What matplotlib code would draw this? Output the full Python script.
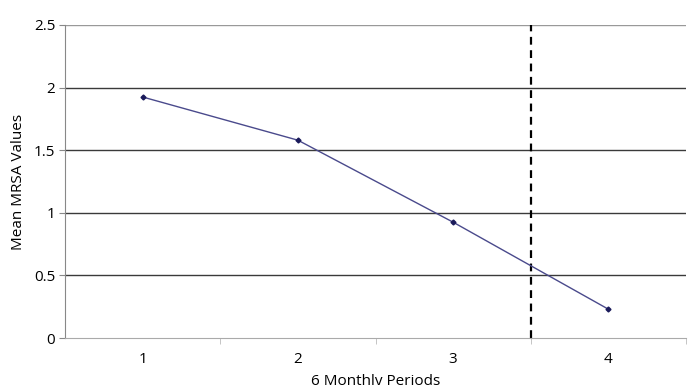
import matplotlib
matplotlib.use("Agg")
import matplotlib.pyplot as plt

# Mean MRSA values per 6 monthly period
periods = [1, 2, 3, 4]
period_labels = ["1", "2", "3", "4"]
mean_mrsa = [1.925, 1.58, 0.925, 0.23]
intervention = 3.5  # dashed line between period 3 and 4

plt.rcParams['font.family'] = ['Open Sans', 'DejaVu Sans']

fig = plt.figure(figsize=(6.96, 3.85), dpi=100)
ax = fig.add_axes([65 / 696, 47 / 385, 621 / 696, 313 / 385])

for y in [0.5, 1, 1.5, 2]:
    ax.axhline(y, color='#3a3a3a', lw=1.0, zorder=1)
ax.axhline(2.5, color='#999999', lw=1.0, zorder=1)

ax.plot(periods, mean_mrsa, color='#4a4a8c', lw=1.0, marker='D',
        markersize=2.5, markerfacecolor='#1a1a5a', markeredgecolor='#1a1a5a', zorder=3)
ax.axvline(intervention, color='black', lw=1.6, ls=(0, (3.5, 2.5)), zorder=2)

ax.set_xlim(0.5, 4.5)
ax.set_ylim(0, 2.5)
ax.set_yticks([0, 0.5, 1, 1.5, 2, 2.5])
ax.set_yticklabels(["0", "0.5", "1", "1.5", "2", "2.5"])
ax.set_xticks(periods)
ax.set_xticklabels(period_labels)
ax.set_xticks([1.5, 2.5, 3.5, 4.5], minor=True)

ax.tick_params(axis='x', which='major', length=0, pad=10, labelsize=11)
ax.tick_params(axis='x', which='minor', length=4, color='#bbbbbb')
ax.tick_params(axis='y', length=4, color='#888888', labelsize=11, pad=3)

for side in ['top', 'right']:
    ax.spines[side].set_visible(False)
ax.spines['left'].set_color('#888888')
ax.spines['bottom'].set_color('#aaaaaa')

ax.set_ylabel("Mean MRSA Values", fontsize=11, labelpad=6)
ax.set_xlabel("6 Monthly Periods", fontsize=11, labelpad=5)

fig.savefig("out.png", dpi=100)
